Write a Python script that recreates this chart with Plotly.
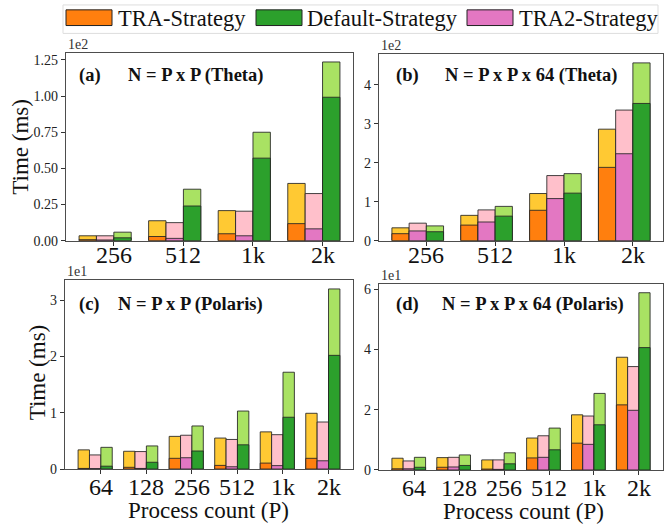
import plotly.graph_objects as go

# Process-count labels for each machine
theta_counts = ["256", "512", "1k", "2k"]
polaris_counts = ["64", "128", "256", "512", "1k", "2k"]

# (a) N = P x P on Theta  (values in units of 1e2 ms)
a_tra_total = [0.034, 0.138, 0.208, 0.396]
a_tra_part = [0.007, 0.029, 0.048, 0.118]
a_tra2_total = [0.034, 0.125, 0.204, 0.326]
a_tra2_part = [0.005, 0.016, 0.034, 0.082]
a_def_total = [0.059, 0.356, 0.750, 1.236]
a_def_part = [0.020, 0.240, 0.571, 0.992]

# (b) N = P x P x 64 on Theta  (units of 1e2 ms)
b_tra_total = [0.33, 0.65, 1.21, 2.86]
b_tra_part = [0.18, 0.40, 0.78, 1.88]
b_tra2_total = [0.45, 0.79, 1.67, 3.35]
b_tra2_part = [0.25, 0.48, 1.08, 2.23]
b_def_total = [0.38, 0.88, 1.72, 4.56]
b_def_part = [0.23, 0.63, 1.22, 3.52]

# (c) N = P x P on Polaris  (units of 1e1 ms)
c_tra_total = [0.34, 0.315, 0.58, 0.55, 0.66, 0.99]
c_tra_part = [0.01, 0.03, 0.19, 0.064, 0.105, 0.19]
c_tra2_total = [0.25, 0.31, 0.60, 0.525, 0.61, 0.835]
c_tra2_part = [0.005, 0.01, 0.20, 0.04, 0.06, 0.146]
c_def_total = [0.385, 0.41, 0.765, 1.03, 1.72, 3.20]
c_def_part = [0.05, 0.12, 0.32, 0.43, 0.92, 2.02]

# (d) N = P x P x 64 on Polaris  (units of 1e1 ms)
d_tra_total = [0.39, 0.41, 0.335, 1.06, 1.83, 3.74]
d_tra_part = [0.04, 0.09, 0.03, 0.40, 0.89, 2.16]
d_tra2_total = [0.30, 0.42, 0.335, 1.135, 1.79, 3.43]
d_tra2_part = [0.04, 0.10, 0.02, 0.42, 0.85, 1.98]
d_def_total = [0.42, 0.50, 0.57, 1.39, 2.54, 5.88]
d_def_part = [0.09, 0.15, 0.205, 0.67, 1.50, 4.06]

W, H = 664, 529
FONT = "Liberation Serif"
BAR_W = 0.25
EDGE = dict(color="rgba(35,35,35,0.85)", width=1)

# strategy -> (dark colour, light colour, offset inside group)
STRATS = {
    "TRA": ("#ff7f0e", "#ffc933", -BAR_W),
    "TRA2": ("#e377c2", "#ffc0cb", 0.0),
    "Default": ("#2ca02c", "#a9e263", BAR_W),
}

panels = [
    dict(labels=theta_counts, scale="1e2", title="N = P x P (Theta)", tag="(a)",
         data={"TRA": (a_tra_part, a_tra_total), "TRA2": (a_tra2_part, a_tra2_total),
               "Default": (a_def_part, a_def_total)},
         dom_x=(66, 353), dom_y=(52, 243.3), dtick=0.25, fmt=".2f",
         tag_x=77, title_x=126, text_y=75, label_y=258),
    dict(labels=theta_counts, scale="1e2", title="N = P x P x 64 (Theta)", tag="(b)",
         data={"TRA": (b_tra_part, b_tra_total), "TRA2": (b_tra2_part, b_tra2_total),
               "Default": (b_def_part, b_def_total)},
         dom_x=(379, 663), dom_y=(53, 243.3), dtick=1, fmt="d",
         tag_x=394, title_x=443, text_y=75, label_y=258),
    dict(labels=polaris_counts, scale="1e1", title="N = P x P (Polaris)", tag="(c)",
         data={"TRA": (c_tra_part, c_tra_total), "TRA2": (c_tra2_part, c_tra2_total),
               "Default": (c_def_part, c_def_total)},
         dom_x=(65, 353), dom_y=(283.3, 476), dtick=1, fmt="d",
         tag_x=77, title_x=116, text_y=308, label_y=494),
    dict(labels=polaris_counts, scale="1e1", title="N = P x P x 64 (Polaris)", tag="(d)",
         data={"TRA": (d_tra_part, d_tra_total), "TRA2": (d_tra2_part, d_tra2_total),
               "Default": (d_def_part, d_def_total)},
         dom_x=(379, 663), dom_y=(287.3, 477), dtick=2, fmt="d",
         tag_x=394, title_x=440, text_y=308, label_y=495),
]


def px_x(x):
    return x / W


def px_y(y):
    return 1 - y / H


fig = go.Figure()
annotations = []
layout = {}

for k, p in enumerate(panels, start=1):
    xa = "x" if k == 1 else f"x{k}"
    ya = "y" if k == 1 else f"y{k}"
    n = len(p["labels"])
    idx = list(range(n))
    ymax = 0
    for name, (dark, light, off) in STRATS.items():
        part, total = p["data"][name]
        xs = [i + off for i in idx]
        ymax = max(ymax, max(total))
        fig.add_trace(go.Bar(x=xs, y=total, width=BAR_W, marker=dict(color=light, line=EDGE),
                             xaxis=xa, yaxis=ya, showlegend=False, name=name))
        fig.add_trace(go.Bar(x=xs, y=part, width=BAR_W, marker=dict(color=dark, line=EDGE),
                             xaxis=xa, yaxis=ya, showlegend=False, name=name))

    lo, hi = -1.5 * BAR_W, (n - 1) + 1.5 * BAR_W
    pad = 0.05 * (hi - lo)
    tick_pos = [i + BAR_W / 2 for i in idx]
    axis_common = dict(showline=True, linecolor="#4d4d4d", linewidth=1.3, mirror=True,
                       ticks="outside", ticklen=4, tickcolor="#333", showgrid=False,
                       zeroline=False)
    layout["xaxis" if k == 1 else f"xaxis{k}"] = dict(
        domain=[px_x(p["dom_x"][0]), px_x(p["dom_x"][1])],
        range=[lo - pad, hi + pad], anchor=ya,
        tickmode="array", tickvals=tick_pos, showticklabels=False, **axis_common)
    ytick = dict(dtick=p["dtick"], tick0=0)
    if p["fmt"] == ".2f":
        ytick["tickformat"] = ".2f"
    layout["yaxis" if k == 1 else f"yaxis{k}"] = dict(
        domain=[px_y(p["dom_y"][1]), px_y(p["dom_y"][0])],
        range=[0, ymax * 1.05], anchor=xa,
        tickfont=dict(family=FONT, size=14, color="#222"), **ytick, **axis_common)

    # process-count labels under each tick
    for tx, lab in zip(tick_pos, p["labels"]):
        annotations.append(dict(text=lab, x=tx, y=px_y(p["label_y"]), xref=xa, yref="paper",
                                xanchor="center", yanchor="middle", showarrow=False,
                                font=dict(family=FONT, size=24, color="#111")))

    # scale factor above the y axis
    annotations.append(dict(text=p["scale"], x=px_x(p["dom_x"][0]), y=px_y(p["dom_y"][0] + 1),
                            xref="paper", yref="paper", xanchor="left", yanchor="bottom",
                            showarrow=False, font=dict(family=FONT, size=14, color="#333")))
    # panel tag and title
    annotations.append(dict(text=f"<b>{p['tag']}</b>", x=px_x(p["tag_x"]), y=px_y(p["text_y"]),
                            xref="paper", yref="paper", xanchor="left", yanchor="middle",
                            showarrow=False, font=dict(family=FONT, size=18.5, color="#111")))
    annotations.append(dict(text=f"<b>{p['title']}</b>", x=px_x(p["title_x"]), y=px_y(p["text_y"]),
                            xref="paper", yref="paper", xanchor="left", yanchor="middle",
                            showarrow=False, font=dict(family=FONT, size=18.5, color="#111")))

# axis titles
for cx, cy in [(21, 147.5), (37, 377.5)]:
    annotations.append(dict(text="Time (ms)", x=px_x(cx), y=px_y(cy), xref="paper", yref="paper",
                            textangle=-90, showarrow=False, xanchor="center", yanchor="middle",
                            font=dict(family=FONT, size=23, color="#111")))
for cx, cy in [(208.5, 518.5), (523, 519)]:
    annotations.append(dict(text="Process count (P)", x=px_x(cx), y=px_y(cy), xref="paper",
                            yref="paper", showarrow=False, xanchor="center", yanchor="middle",
                            font=dict(family=FONT, size=23, color="#111")))

# legend drawn across the top
shapes = [dict(type="rect", xref="paper", yref="paper", x0=px_x(63), x1=px_x(658),
               y0=px_y(32), y1=px_y(3), line=dict(color="#dddddd", width=1),
               fillcolor="rgba(255,255,255,0)")]
legend_items = [("TRA-Strategy", STRATS["TRA"][0], 66, 112, 116),
                ("Default-Strategy", STRATS["Default"][0], 256, 302, 305),
                ("TRA2-Strategy", STRATS["TRA2"][0], 467, 513, 517)]
for label, color, s0, s1, tx in legend_items:
    shapes.append(dict(type="rect", xref="paper", yref="paper", x0=px_x(s0), x1=px_x(s1),
                       y0=px_y(24), y1=px_y(8), fillcolor=color,
                       line=dict(color="#222", width=1)))
    annotations.append(dict(text=label, x=px_x(tx), y=px_y(16.5), xref="paper", yref="paper",
                            xanchor="left", yanchor="middle", showarrow=False,
                            font=dict(family=FONT, size=22.5, color="#111")))

fig.update_layout(width=W, height=H, margin=dict(l=0, r=0, t=0, b=0),
                  paper_bgcolor="white", plot_bgcolor="white", barmode="overlay",
                  annotations=annotations, shapes=shapes, **layout)

fig.write_html("out.html")
